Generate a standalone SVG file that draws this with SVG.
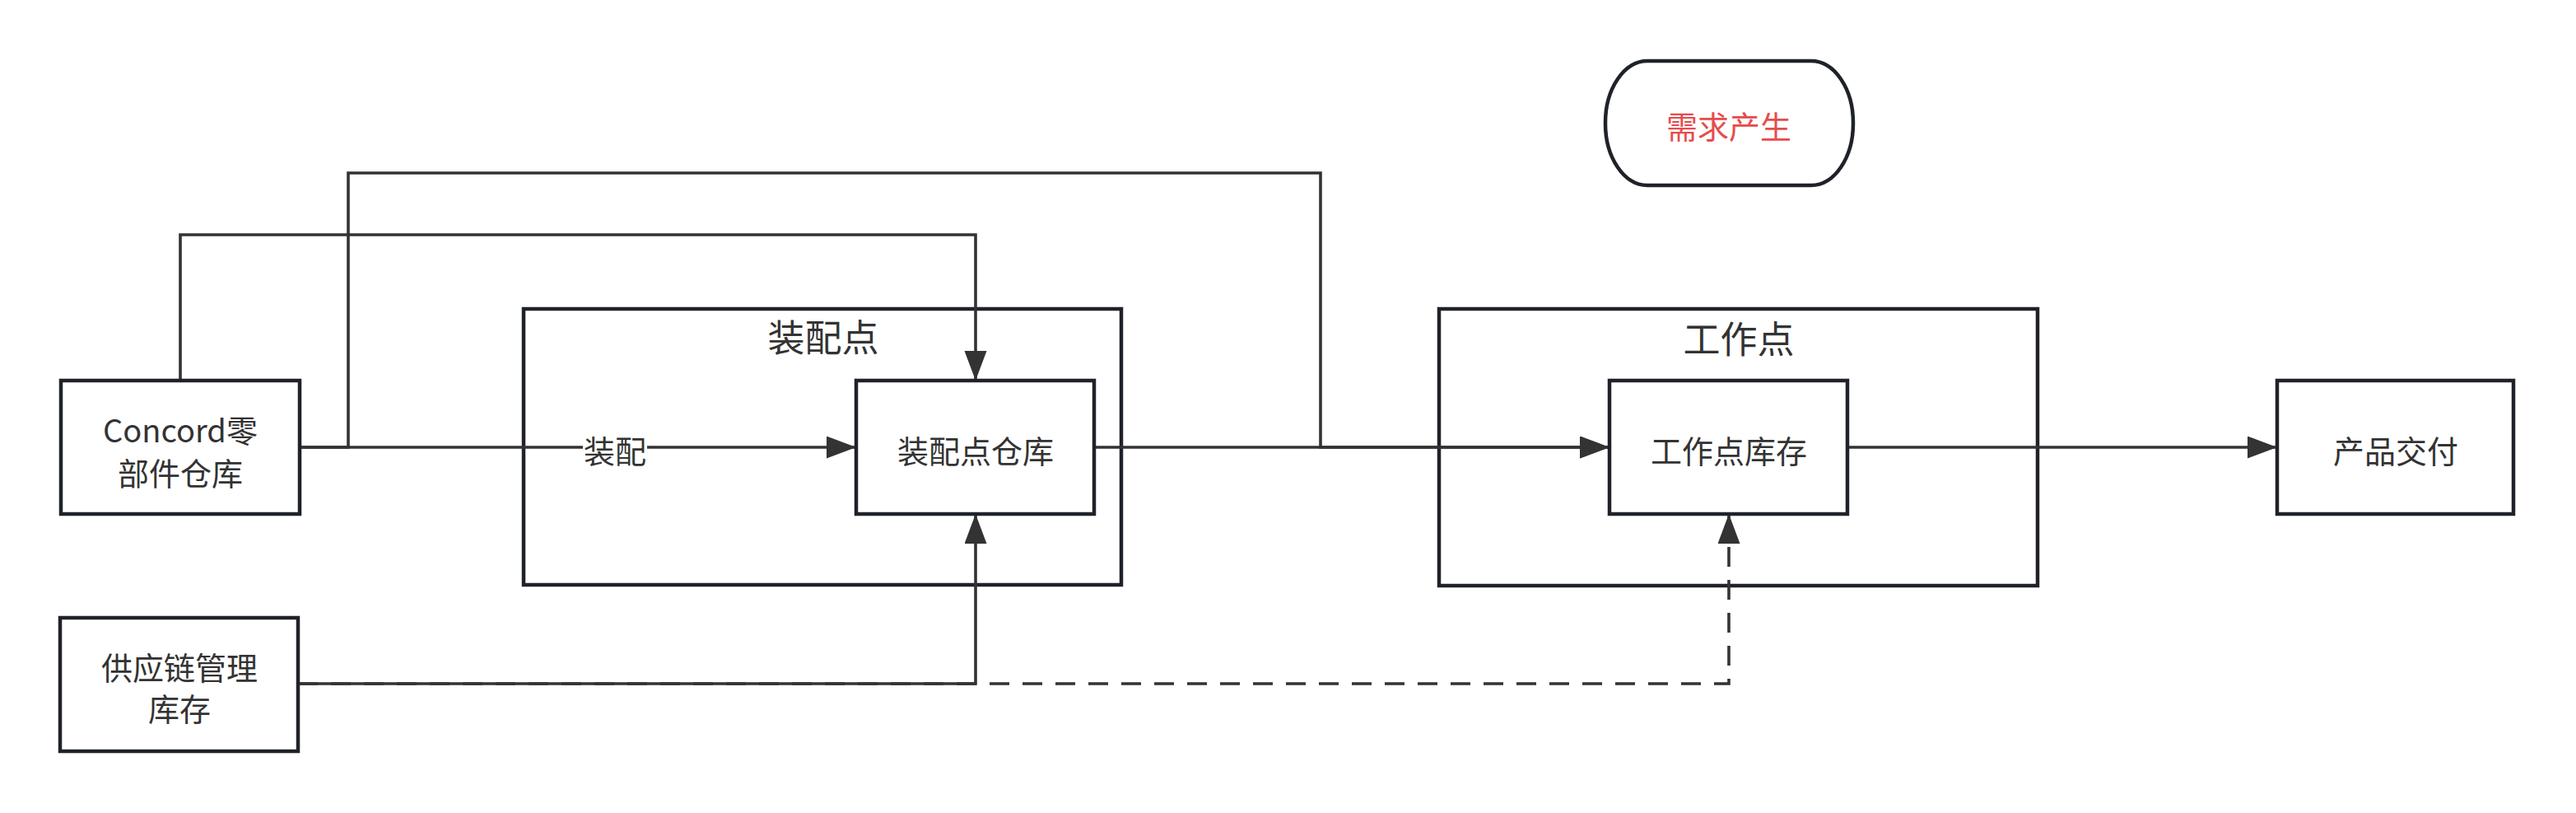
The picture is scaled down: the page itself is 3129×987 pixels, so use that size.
<svg xmlns="http://www.w3.org/2000/svg" width="3129" height="987" viewBox="0 0 3129 987">
<style>
.box{fill:#fff;stroke:#1f2329;stroke-width:4.5}
.frame{fill:none;stroke:#1f2329;stroke-width:4.5}
.t{font-family:"Noto Sans CJK SC","Noto Sans",sans-serif;font-size:38px;fill:#333;text-anchor:middle;dominant-baseline:central}
.tl{font-size:45px}
.red{fill:#e64c4c}
.c{fill:none;stroke:#333;stroke-width:3.6}
.d{stroke-dasharray:24 16}
</style>
<defs>
<marker id="ah" markerUnits="userSpaceOnUse" markerWidth="38" markerHeight="28" refX="36" refY="13.5" orient="auto">
<path d="M0,0 L36,13.5 L0,27 Z" fill="#333"/>
</marker>
</defs>
<rect width="3129" height="987" fill="#fff"/>
<g id="assembly-point">
<rect class="frame" x="636" y="375" width="726" height="335"/>
<text class="t tl" x="1000" y="407">装配点</text>
</g>
<g id="work-point">
<rect class="frame" x="1748" y="375" width="727" height="336"/>
<text class="t tl" x="2112" y="409">工作点</text>
</g>
<g id="connectors">
<path class="c d" d="M362,830 H2100 V624" marker-end="url(#ah)"/>
<path class="c" d="M362,830 H1185 V624" marker-end="url(#ah)"/>
<path class="c" d="M219,462 V285 H1185 V462" marker-end="url(#ah)"/>
<path class="c" d="M364,543 H423 V210 H1604 V543 H1955" marker-end="url(#ah)"/>
<path class="c" d="M364,543 H1040" marker-end="url(#ah)"/>
<path class="c" d="M1329,543 H1955" marker-end="url(#ah)"/>
<path class="c" d="M2244,543 H2766" marker-end="url(#ah)"/>
<rect x="708" y="522" width="78" height="46" fill="#fff"/>
<text class="t" x="747" y="545">装配</text>
</g>
<g id="concord">
<rect class="box" x="74" y="462" width="290" height="162"/>
<text class="t" x="219" y="520">Concord零</text>
<text class="t" x="219" y="572">部件仓库</text>
</g>
<g id="assembly-warehouse">
<rect class="box" x="1040" y="462" width="289" height="162"/>
<text class="t" x="1185" y="545">装配点仓库</text>
</g>
<g id="work-inventory">
<rect class="box" x="1955" y="462" width="289" height="162"/>
<text class="t" x="2100" y="545">工作点库存</text>
</g>
<g id="delivery">
<rect class="box" x="2766" y="462" width="287" height="162"/>
<text class="t" x="2910" y="545">产品交付</text>
</g>
<g id="supply-chain">
<rect class="box" x="73" y="750" width="289" height="162"/>
<text class="t" x="218" y="808">供应链管理</text>
<text class="t" x="218" y="858">库存</text>
</g>
<g id="demand">
<rect class="box" x="1950" y="74" width="301" height="151" rx="51" ry="75"/>
<text class="t red" x="2100" y="151">需求产生</text>
</g>
</svg>
